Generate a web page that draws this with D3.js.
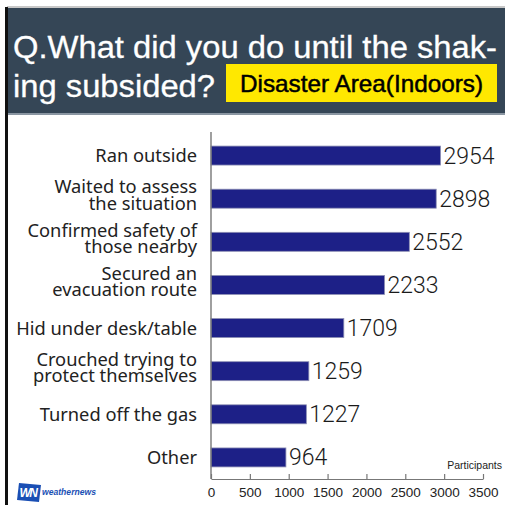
<!DOCTYPE html>
<html>
<head>
<meta charset="utf-8">
<script src="https://cdn.jsdelivr.net/npm/d3@7"></script>
<style>
  html, body { margin: 0; padding: 0; background: #fff; }
  svg { display: block; }
</style>
</head>
<body>
<svg id="chart" width="505" height="505"></svg>
<script>
// Survey answers (label lines) and participant counts
const categories = [
  ["Ran outside"],
  ["Waited to assess", "the situation"],
  ["Confirmed safety of", "those nearby"],
  ["Secured an", "evacuation route"],
  ["Hid under desk/table"],
  ["Crouched trying to", "protect themselves"],
  ["Turned off the gas"],
  ["Other"]
];
const values = [2954, 2898, 2552, 2233, 1709, 1259, 1227, 964];
const tickValues = [0, 500, 1000, 1500, 2000, 2500, 3000, 3500];

const svg = d3.select("#chart");
const W = 505, H = 505;

// Frame and header
svg.append("rect").attr("x", 0).attr("y", 0).attr("width", W).attr("height", H).attr("fill", "#fff");
svg.append("rect").attr("x", 7).attr("y", 6).attr("width", W - 7).attr("height", 2).attr("fill", "#c8c8c8");
svg.append("rect").attr("x", 8).attr("y", 8).attr("width", W - 8).attr("height", 106).attr("fill", "#354656");
svg.append("rect").attr("x", 8).attr("y", 113).attr("width", W - 8).attr("height", 2).attr("fill", "#8a96a2");
svg.append("rect").attr("x", 5).attr("y", 7).attr("width", 3).attr("height", H - 7).attr("fill", "#111");

const titleFont = "'Liberation Sans', Arial, sans-serif";
svg.append("text").attr("x", 13).attr("y", 58)
  .attr("fill", "#fff").attr("stroke", "#fff").attr("stroke-width", 0.3)
  .attr("font-family", titleFont).attr("font-size", 31)
  .attr("textLength", 484).attr("lengthAdjust", "spacingAndGlyphs")
  .text("Q.What did you do until the shak-");
svg.append("text").attr("x", 13).attr("y", 97)
  .attr("fill", "#fff").attr("stroke", "#fff").attr("stroke-width", 0.3)
  .attr("font-family", titleFont).attr("font-size", 31)
  .attr("textLength", 202).attr("lengthAdjust", "spacingAndGlyphs")
  .text("ing subsided?");
svg.append("rect").attr("x", 226).attr("y", 64).attr("width", 271).attr("height", 38).attr("fill", "#ffe800");
svg.append("text").attr("x", 361.5).attr("y", 92)
  .attr("text-anchor", "middle").attr("fill", "#000")
  .attr("stroke", "#000").attr("stroke-width", 0.5)
  .attr("font-family", "'Liberation Sans Narrow', 'Liberation Sans', Arial, sans-serif")
  .attr("font-size", 24).attr("textLength", 243).attr("lengthAdjust", "spacingAndGlyphs")
  .text("Disaster Area(Indoors)");

// Plot area
const x = d3.scaleLinear().domain([0, 3500]).range([211, 483]);
const y = d3.scaleBand().domain(d3.range(categories.length)).range([134, 479]).paddingInner(0.56).paddingOuter(0.28);

// Bars
svg.append("g").selectAll("rect").data(values).join("rect")
  .attr("x", x(0))
  .attr("y", (d, i) => y(i))
  .attr("width", d => x(d) - x(0))
  .attr("height", y.bandwidth())
  .attr("fill", "#1d2087")
  .attr("stroke", "#8d8fb4").attr("stroke-width", 0.8);

// Value labels
svg.append("g").selectAll("text").data(values).join("text")
  .attr("x", d => x(d) + 3)
  .attr("y", (d, i) => y(i) + y.bandwidth() / 2 + 8)
  .attr("fill", "#1a1a1a")
  .attr("font-family", "Roboto, 'Liberation Sans', Arial, sans-serif")
  .attr("font-weight", 300)
  .attr("font-size", 23)
  .text(d => d);

// Category labels
const labelG = svg.append("g");
categories.forEach((lines, i) => {
  const cy = y(i) + y.bandwidth() / 2;
  const t = labelG.append("text")
    .attr("text-anchor", "end")
    .attr("fill", "#222")
    .attr("font-family", "'Noto Sans', 'Liberation Sans', Arial, sans-serif")
    .attr("font-size", 18.3);
  const lh = 16.5;
  const y0 = lines.length > 1 ? cy - lh / 2 + 3 : cy + 6.5;
  lines.forEach((ln, j) => {
    t.append("tspan").attr("x", 197).attr("y", y0 + j * lh).text(ln);
  });
});

// Axes
const axisG = svg.append("g").attr("transform", "translate(0,479)");
axisG.call(d3.axisBottom(x).tickValues(tickValues).tickSize(0).tickPadding(0).tickFormat(""));
axisG.select(".domain").attr("stroke", "#777").attr("stroke-width", 1.2);
axisG.selectAll(".tick").append("line").attr("y1", 0).attr("y2", -5).attr("stroke", "#777").attr("stroke-width", 1.2);
axisG.selectAll(".tick").append("text")
  .attr("y", 18).attr("text-anchor", "middle").attr("fill", "#222")
  .attr("font-family", "'Liberation Sans Narrow', 'Liberation Sans', Arial, sans-serif")
  .attr("font-size", 13.5)
  .text(d => d);

svg.append("line").attr("x1", x(0)).attr("x2", x(0)).attr("y1", 132).attr("y2", 479)
  .attr("stroke", "#777").attr("stroke-width", 1.4);

svg.append("text").attr("x", 502).attr("y", 469).attr("text-anchor", "end")
  .attr("fill", "#222").attr("font-family", "'Liberation Sans Narrow', 'Liberation Sans', Arial, sans-serif")
  .attr("font-size", 10.5).text("Participants");

// Brand mark
const logo = svg.append("g").attr("transform", "translate(17,483)");
logo.append("path").attr("d", "M2,0 L24,2 L22,19 L0,17 Z").attr("fill", "#1a4fb4");
logo.append("text").attr("x", 11).attr("y", 14).attr("text-anchor", "middle")
  .attr("fill", "#fff").attr("font-family", "'Liberation Sans', Arial, sans-serif")
  .attr("font-weight", "bold").attr("font-style", "italic").attr("font-size", 12)
  .attr("letter-spacing", -1.5).text("WN");
svg.append("text").attr("x", 42).attr("y", 495)
  .attr("fill", "#1a4fb4").attr("font-family", "'Liberation Sans', Arial, sans-serif")
  .attr("font-weight", "bold").attr("font-style", "italic").attr("font-size", 9.5)
  .attr("textLength", 54).attr("lengthAdjust", "spacingAndGlyphs")
  .text("weathernews");
</script>
</body>
</html>
